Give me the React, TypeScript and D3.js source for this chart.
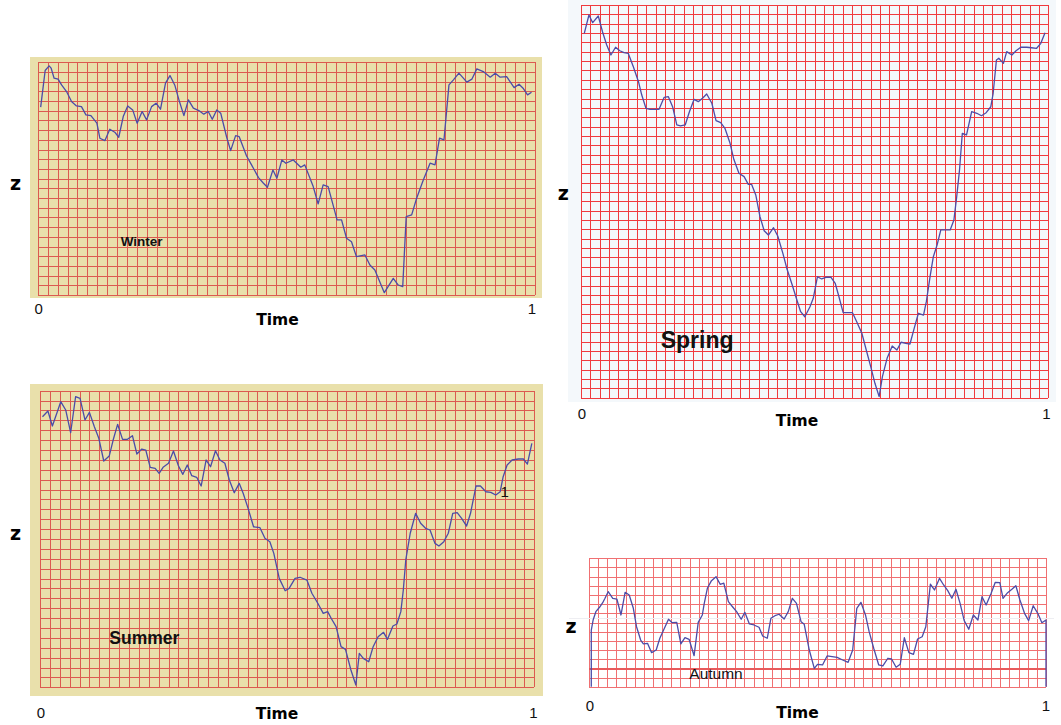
import React from "react";
import * as d3 from "d3";

// ---- data: [time, z] (z in grid units of each panel) ----
const winterSeries: [number, number][] = [[0.006,19.37],[0.015,23.15],[0.023,23.63],[0.027,23.4],[0.033,22.36],[0.041,22.26],[0.048,21.67],[0.058,20.98],[0.068,19.95],[0.078,19.5],[0.088,19.43],[0.097,18.58],[0.107,18.5],[0.119,17.72],[0.125,16.17],[0.135,15.92],[0.145,17.1],[0.155,16.79],[0.163,16.27],[0.172,18.4],[0.181,19.5],[0.191,19.09],[0.2,17.72],[0.21,18.92],[0.219,18.06],[0.229,19.43],[0.238,19.78],[0.247,19.16],[0.257,21.85],[0.266,22.63],[0.276,21.6],[0.285,19.95],[0.294,18.5],[0.303,20.12],[0.313,19.27],[0.324,19.02],[0.334,18.65],[0.343,18.92],[0.351,18.13],[0.36,19.09],[0.368,18.75],[0.38,16.27],[0.388,14.89],[0.398,16.44],[0.405,16.34],[0.42,14.34],[0.43,13.42],[0.444,12.11],[0.454,11.53],[0.462,11.11],[0.473,12.9],[0.481,12.04],[0.491,13.93],[0.499,13.59],[0.514,13.93],[0.529,13.18],[0.537,13.42],[0.554,11.18],[0.564,9.39],[0.574,11.35],[0.584,11.18],[0.602,7.74],[0.611,7.74],[0.621,5.85],[0.631,5.5],[0.641,3.95],[0.658,4.13],[0.668,3.1],[0.678,2.58],[0.697,0.24],[0.715,1.72],[0.725,1.03],[0.734,0.86],[0.741,8.08],[0.752,8.26],[0.762,9.98],[0.775,11.8],[0.789,13.59],[0.799,13.42],[0.808,16.17],[0.817,16.0],[0.827,21.67],[0.836,22.19],[0.847,22.88],[0.863,21.95],[0.873,22.26],[0.883,23.32],[0.896,23.04],[0.91,22.47],[0.92,22.88],[0.93,22.47],[0.943,22.53],[0.958,21.39],[0.968,21.74],[0.976,21.33],[0.985,20.64],[0.993,20.92]];

const summerSeries: [number, number][] = [[0.005,27.37],[0.016,27.95],[0.025,26.43],[0.034,27.71],[0.042,28.89],[0.052,28.05],[0.062,25.75],[0.072,29.39],[0.081,29.23],[0.091,27.04],[0.1,27.81],[0.11,26.36],[0.119,25.18],[0.129,22.89],[0.14,23.39],[0.148,25.01],[0.157,26.6],[0.167,25.08],[0.177,25.08],[0.187,25.45],[0.196,23.6],[0.206,24.1],[0.214,24.0],[0.223,22.25],[0.233,22.15],[0.241,21.64],[0.249,22.25],[0.26,22.66],[0.27,23.9],[0.28,22.41],[0.289,21.54],[0.298,22.48],[0.307,21.4],[0.317,21.24],[0.326,20.36],[0.336,22.99],[0.345,22.31],[0.355,23.93],[0.364,22.99],[0.374,22.66],[0.383,20.97],[0.393,19.68],[0.403,20.63],[0.411,19.62],[0.421,18.1],[0.432,16.24],[0.445,16.14],[0.455,15.07],[0.465,14.73],[0.473,13.55],[0.484,11.02],[0.496,9.77],[0.504,10.01],[0.516,11.02],[0.526,11.13],[0.54,10.85],[0.55,9.51],[0.562,8.5],[0.573,7.48],[0.582,7.65],[0.589,6.98],[0.599,6.13],[0.609,4.11],[0.618,3.84],[0.629,1.75],[0.639,0.23],[0.646,3.44],[0.654,2.93],[0.665,2.59],[0.674,4.11],[0.684,5.12],[0.695,5.56],[0.703,4.85],[0.714,6.2],[0.722,6.4],[0.73,7.65],[0.735,9.84],[0.74,12.88],[0.749,15.58],[0.76,17.6],[0.77,16.59],[0.78,16.08],[0.789,15.91],[0.799,14.56],[0.807,14.29],[0.817,14.73],[0.826,15.58],[0.835,17.6],[0.844,17.66],[0.853,17.09],[0.863,16.31],[0.871,17.6],[0.882,20.36],[0.891,20.36],[0.902,19.78],[0.912,19.72],[0.922,19.45],[0.931,19.78],[0.937,21.3],[0.945,22.48],[0.955,22.99],[0.968,23.09],[0.978,23.09],[0.986,22.58],[0.995,24.68]];

const springSeries: [number, number][] = [[0.007,38.97],[0.017,40.93],[0.025,40.11],[0.037,40.82],[0.046,39.14],[0.055,37.72],[0.064,36.65],[0.074,37.48],[0.083,37.11],[0.092,36.9],[0.101,36.83],[0.112,35.4],[0.123,33.8],[0.13,32.37],[0.139,30.95],[0.148,30.84],[0.157,30.84],[0.167,30.84],[0.178,32.13],[0.187,32.19],[0.196,31.12],[0.205,29.17],[0.213,29.06],[0.223,29.17],[0.232,30.59],[0.242,31.91],[0.251,31.66],[0.26,32.02],[0.269,32.48],[0.28,31.49],[0.289,29.63],[0.299,29.41],[0.308,28.81],[0.319,27.21],[0.327,25.5],[0.338,24.0],[0.349,23.64],[0.358,22.82],[0.365,22.82],[0.374,21.68],[0.383,19.36],[0.392,17.86],[0.401,17.4],[0.412,18.18],[0.421,17.29],[0.432,15.44],[0.441,13.73],[0.452,12.05],[0.462,10.45],[0.47,9.2],[0.479,8.66],[0.49,9.73],[0.497,10.63],[0.506,12.94],[0.515,12.7],[0.524,12.88],[0.535,12.88],[0.544,12.24],[0.552,10.8],[0.561,9.09],[0.572,9.09],[0.581,9.09],[0.59,8.13],[0.601,6.89],[0.61,5.18],[0.62,3.32],[0.629,1.54],[0.638,0.11],[0.645,2.25],[0.655,4.21],[0.666,5.53],[0.676,5.1],[0.685,5.93],[0.695,5.82],[0.704,5.74],[0.713,7.42],[0.722,9.03],[0.733,8.84],[0.739,10.27],[0.747,12.94],[0.754,15.08],[0.762,16.33],[0.77,17.94],[0.779,17.94],[0.79,17.94],[0.798,19.0],[0.804,21.5],[0.81,24.35],[0.816,28.28],[0.825,28.1],[0.836,30.59],[0.847,30.42],[0.857,30.16],[0.867,30.48],[0.877,31.12],[0.882,32.56],[0.889,36.12],[0.894,36.3],[0.904,35.76],[0.911,37.01],[0.922,36.65],[0.931,37.11],[0.941,37.48],[0.954,37.48],[0.964,37.43],[0.975,37.37],[0.984,37.9],[0.993,39.04]];

const autumnSeries: [number, number][] = [[0.005,0],[0.005,6.18],[0.009,7.27],[0.015,8.18],[0.023,8.66],[0.03,9.16],[0.035,9.64],[0.042,10.36],[0.052,9.64],[0.061,9.56],[0.07,7.82],[0.079,10.29],[0.088,10.0],[0.097,8.55],[0.104,6.54],[0.113,5.09],[0.119,4.66],[0.128,4.73],[0.137,3.71],[0.147,4.0],[0.155,5.28],[0.165,6.37],[0.174,7.35],[0.182,6.98],[0.192,7.02],[0.201,4.66],[0.21,5.34],[0.219,5.17],[0.23,3.38],[0.239,7.02],[0.248,7.82],[0.252,9.02],[0.259,10.73],[0.268,11.56],[0.278,12.0],[0.287,11.17],[0.295,11.28],[0.305,9.27],[0.314,8.72],[0.323,8.18],[0.333,7.35],[0.341,8.11],[0.351,6.84],[0.361,6.73],[0.372,6.48],[0.38,5.53],[0.39,5.28],[0.398,7.46],[0.407,7.74],[0.416,7.9],[0.427,7.38],[0.436,8.18],[0.445,9.64],[0.454,9.09],[0.464,7.09],[0.471,6.8],[0.482,4.0],[0.493,2.0],[0.5,2.44],[0.511,2.37],[0.521,3.35],[0.532,3.27],[0.543,3.2],[0.555,2.91],[0.567,2.66],[0.577,4.0],[0.586,8.55],[0.595,9.2],[0.605,7.82],[0.613,6.0],[0.623,4.19],[0.634,2.37],[0.643,2.26],[0.654,3.1],[0.662,3.02],[0.672,2.12],[0.681,2.44],[0.69,5.34],[0.7,3.71],[0.71,3.53],[0.719,5.2],[0.729,5.45],[0.737,6.54],[0.747,11.17],[0.756,10.55],[0.767,11.82],[0.776,11.09],[0.785,10.47],[0.794,9.64],[0.803,10.62],[0.812,9.09],[0.821,7.2],[0.831,6.26],[0.841,7.82],[0.851,7.27],[0.86,9.81],[0.869,8.91],[0.88,10.19],[0.889,11.38],[0.899,11.34],[0.906,9.64],[0.916,10.25],[0.926,10.65],[0.934,11.01],[0.943,9.45],[0.953,8.0],[0.962,7.2],[0.972,8.83],[0.982,8.0],[0.991,6.98],[1.0,7.27],[1.0,0]];

const timeTicks = ["0", "1"];
const axisTitleX = "Time";
const axisTitleY = "z";
const seasonNames = ["Winter", "Summer", "Spring", "Autumn"];

// ---- layout ----
type Panel = {
  name: string; series: [number, number][];
  bg: string | null; bgBox: [number, number, number, number] | null;
  gx: [number, number]; gy: [number, number]; cols: number; rows: number;
  grid: string;
  zPos: [number, number]; timePos: [number, number]; tickY: number; tickDx: number;
  label: { x: number; y: number; size: number; weight: string };
};

const panels: Panel[] = [
  { name: seasonNames[0], series: winterSeries, bg: "#e9e0ab", bgBox: [30, 57, 512, 241],
    gx: [37.7, 535], gy: [62.3, 295], cols: 50, rows: 24, grid: "#dc5a50",
    zPos: [15.5, 190], timePos: [277.5, 324.5], tickY: 313.5, tickDx: -3,
    label: { x: 120.7, y: 245.5, size: 13.5, weight: "bold" } },
  { name: seasonNames[1], series: summerSeries, bg: "#e9e0ab", bgBox: [30, 384, 513, 312],
    gx: [40, 534.3], gy: [390.7, 687.3], cols: 50, rows: 30, grid: "#dc5a50",
    zPos: [15.5, 540], timePos: [277, 718.5], tickY: 718, tickDx: -1,
    label: { x: 109.3, y: 643.5, size: 17.5, weight: "bold" } },
  { name: seasonNames[2], series: springSeries, bg: "#f4f8fb", bgBox: [568, 0, 488, 402],
    gx: [581, 1048.3], gy: [5, 397.7], cols: 50, rows: 42, grid: "#f03a3e",
    zPos: [563.3, 200], timePos: [797, 425.5], tickY: 419, tickDx: -2,
    label: { x: 660.7, y: 347.5, size: 23, weight: "bold" } },
  { name: seasonNames[3], series: autumnSeries, bg: null, bgBox: null,
    gx: [589, 1046], gy: [558.3, 686.7], cols: 50, rows: 14, grid: "#f07072",
    zPos: [571, 633], timePos: [797.5, 717.5], tickY: 711, tickDx: 0,
    label: { x: 689.3, y: 679, size: 15.5, weight: "normal" } },
];

const FONT = "'Liberation Sans', Arial, Helvetica, sans-serif";
const TITLE_FONT = "'DejaVu Sans', Verdana, sans-serif";

function PanelView({ p, idx }: { p: Panel; idx: number }) {
  const x = d3.scaleLinear().domain([0, 1]).range(p.gx);
  const y = d3.scaleLinear().domain([0, p.rows]).range([p.gy[1], p.gy[0]]);
  const line = d3.line<[number, number]>().x((d) => x(d[0])).y((d) => y(d[1])).curve(d3.curveLinear);
  const colIdx = d3.range(p.cols + 1);
  const rowIdx = d3.range(p.rows + 1);
  const snap = (v: number) => Math.round(v) + 0.5;
  return (
    <g>
      {p.bg && p.bgBox && (
        <rect x={p.bgBox[0]} y={p.bgBox[1]} width={p.bgBox[2]} height={p.bgBox[3]} fill={p.bg} />
      )}
      <g stroke={p.grid} strokeWidth={1} shapeRendering="crispEdges">
        {colIdx.map((i) => (
          <line key={"c" + i} x1={snap(x(i / p.cols))} x2={snap(x(i / p.cols))} y1={p.gy[0]} y2={p.gy[1]} />
        ))}
        {rowIdx.map((j) => (
          <line key={"r" + j} x1={p.gx[0]} x2={p.gx[1]} y1={snap(y(j))} y2={snap(y(j))} />
        ))}
      </g>
      {idx === 3 && (
        <g shapeRendering="crispEdges">
          <line x1={p.gx[0]} x2={p.gx[1]} y1={snap(y(2))} y2={snap(y(2))} stroke="#e85a5c" strokeWidth={2} />
          <line x1={p.gx[0] - 20} x2={p.gx[1] + 8} y1={snap(y(7.45))} y2={snap(y(7.45))} stroke="#eeeef2" strokeWidth={1} />
        </g>
      )}
      <path d={line(p.series) || ""} fill="none" stroke="#4b4ca8" strokeWidth={1.3} strokeLinejoin="round" />
      <text x={p.label.x} y={p.label.y} fontFamily={FONT} fontSize={p.label.size} fontWeight={p.label.weight} fill="#111">
        {p.name}
      </text>
      {idx === 1 && (
        <text x={x(0.94)} y={497} textAnchor="middle" fontFamily={FONT} fontSize={15} fill="#111">1</text>
      )}
      <text x={p.zPos[0]} y={p.zPos[1]} textAnchor="middle" fontFamily={TITLE_FONT} fontSize={19} fontWeight="bold" fill="#000">
        {axisTitleY}
      </text>
      <text x={p.timePos[0]} y={p.timePos[1]} textAnchor="middle" fontFamily={TITLE_FONT} fontSize={15.5} fontWeight="bold" fill="#000">
        {axisTitleX}
      </text>
      {timeTicks.map((t, k) => (
        <text key={t} x={x(+t) + (k === 1 ? p.tickDx : 0) + (k === 0 ? 1 : 0)} y={p.tickY} textAnchor="middle"
          fontFamily={FONT} fontSize={15} fill="#111">{t}</text>
      ))}
    </g>
  );
}

export default function App() {
  return (
    <svg width={1061} height={725} style={{ position: "absolute", left: 0, top: 0, background: "#fff" }}>
      <rect x={0} y={0} width={1061} height={725} fill="#fff" />
      {panels.map((p, i) => <PanelView key={p.name} p={p} idx={i} />)}
    </svg>
  );
}
